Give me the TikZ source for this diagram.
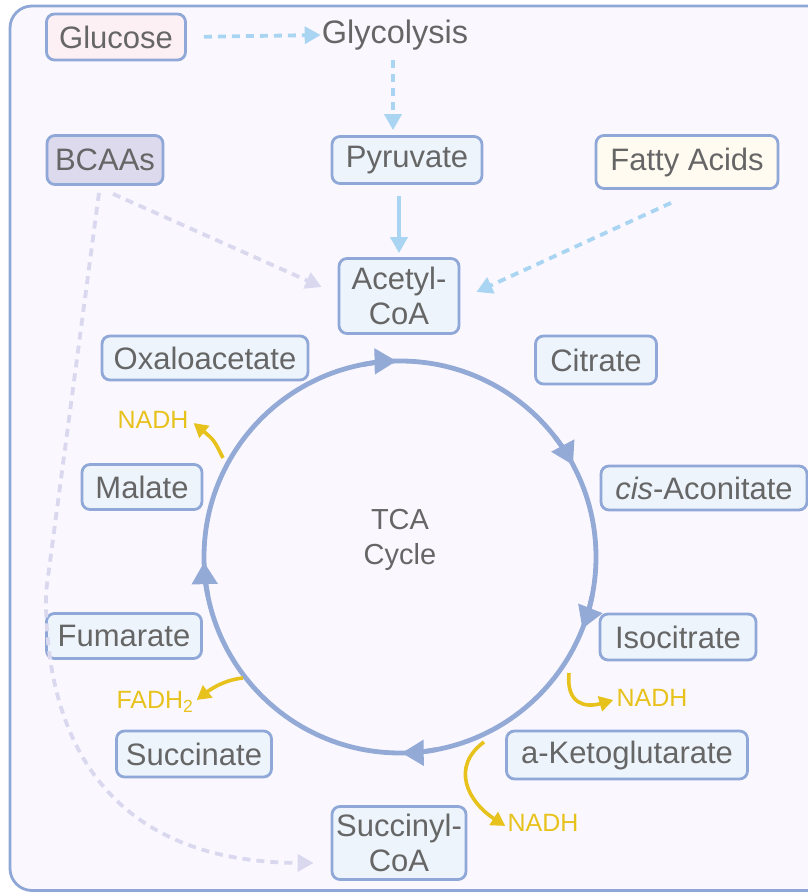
\documentclass[tikz,border=0pt]{standalone}
\usepackage{fontspec}
\setmainfont{Liberation Sans}
\usetikzlibrary{arrows.meta}
\definecolor{framec}{HTML}{8EA7D7}
\definecolor{bg}{HTML}{FAF8FE}
\definecolor{boxfill}{HTML}{EDF4FB}
\definecolor{boxline}{HTML}{8FA8D7}
\definecolor{txt}{HTML}{666666}
\definecolor{cyc}{HTML}{93A9D6}
\definecolor{gold}{HTML}{E8C21C}
\definecolor{skyd}{HTML}{A9D5F2}
\definecolor{lav}{HTML}{DAD8EE}
\definecolor{pinkfill}{HTML}{FDF0F4}
\definecolor{lavfill}{HTML}{DDDAEE}
\definecolor{creamfill}{HTML}{FFFBF1}
\begin{document}
\begin{tikzpicture}[x=1pt,y=1pt,
  box/.style={draw=boxline, line width=2.8pt, rounded corners=8pt, fill=boxfill,
    text=txt, font=\fontsize{31}{35}\selectfont, inner sep=0pt, align=center},
  lbl/.style={text=gold, font=\fontsize{25}{28}\selectfont, inner sep=0pt},
  skydash/.style={draw=skyd, line width=3.8pt, dash pattern=on 8pt off 6pt,
    -{Triangle[length=16pt,width=17pt,fill=skyd]}},
  lavdash/.style={draw=lav, line width=3.8pt, dash pattern=on 8pt off 6pt,
    -{Triangle[length=16pt,width=17pt,fill=lav]}},
  cycline/.style={draw=cyc, line width=4.8pt},
  cyctip/.style={draw=cyc, line width=4.8pt, -{Triangle[length=22pt,width=25pt,fill=cyc]}},
  goldarrow/.style={draw=gold, line width=3.6pt, -{Triangle[length=14pt,width=15pt,fill=gold]}}
]
\useasboundingbox (0,0) rectangle (808,892);
\clip (0,0) rectangle (808,892);
\draw[draw=framec, line width=2.8pt, fill=bg, rounded corners=22pt] (10,1.5) rectangle (850,886);

% nodes
\node[box, fill=pinkfill, minimum width=139pt, minimum height=46pt] (glucose) at (116,855) {Glucose};
\node[text=txt, font=\fontsize{32.5}{36}\selectfont, inner sep=0pt] (glyc) at (395,857) {Glycolysis};
\node[box, minimum width=150pt, minimum height=47pt] (pyruvate) at (407,732) {Pyruvate};
\node[box, fill=lavfill, minimum width=116pt, minimum height=49pt] (bcaas) at (105,732) {BCAAs};
\node[box, fill=creamfill, minimum width=182pt, minimum height=53pt] (fatty) at (687,730) {Fatty Acids};
\node[box, minimum width=120pt, minimum height=75pt] (acetyl) at (399,596) {Acetyl-\\CoA};
\node[box, minimum width=206pt, minimum height=44pt] (oxalo) at (205,534) {Oxaloacetate};
\node[box, minimum width=121pt, minimum height=48pt] (citrate) at (596,532) {Citrate};
\node[box, minimum width=206pt, minimum height=44pt] (aconit) at (704,404) {\textit{cis}-Aconitate};
\node[box, minimum width=120pt, minimum height=45pt] (malate) at (142,405) {Malate};
\node[box, minimum width=155pt, minimum height=45pt] (fumarate) at (124,256) {Fumarate};
\node[box, minimum width=156pt, minimum height=46pt] (isocit) at (678,255) {Isocitrate};
\node[box, minimum width=241pt, minimum height=48pt] (akg) at (627,137) {a-Ketoglutarate};
\node[box, minimum width=155pt, minimum height=46pt] (succinate) at (194,138) {Succinate};
\node[box, minimum width=134pt, minimum height=73pt] (succoa) at (399,49) {Succinyl-\\CoA};

\node[text=txt, font=\fontsize{29}{35}\selectfont, align=center, inner sep=0pt] (tca) at (400,352) {TCA\\Cycle};

% feeder connectors
\draw[skydash, shorten <=17pt, shorten >=1pt] (glucose.east) -- (glyc.west);
\draw[skydash, shorten <=10pt, shorten >=5pt] ([xshift=-2pt]glyc.south) -- ([xshift=-2pt]glyc.south |- pyruvate.north);
\draw[draw=skyd, line width=3.8pt, -{Triangle[length=16pt,width=17pt,fill=skyd]}, shorten <=11pt, shorten >=4pt]
  (pyruvate.south -| acetyl.north) -- (acetyl.north);
\draw[skydash] ([xshift=-16pt,yshift=-13pt]fatty.south) -- ([xshift=16pt,yshift=4pt]acetyl.east);
\draw[lavdash] ([xshift=8pt,yshift=-8pt]bcaas.south) -- ([xshift=-16pt,yshift=9pt]acetyl.west);
\coordinate (bend) at (46,300);
\draw[lavdash] ([xshift=-6pt,yshift=-7pt]bcaas.south) -- (bend)
  .. controls (44,150) and (110,30) .. ([xshift=-17pt,yshift=-20pt]succoa.west);

% TCA cycle
\coordinate (c) at (400,335);
\draw[cycline] (c) circle[radius=196];
\foreach \a in {91,28,-21.5,-89.5,181.5}{
  \pgfmathsetmacro{\b}{\a+10}
  \draw[cyctip] ([shift={(\b:196)}]c) arc[start angle=\b, end angle=\a, radius=196];
}

% yield labels and arrows
\node[lbl] (n1) at (153,472) {NADH};
\node[lbl] (f1) at (155,190) {FADH\textsubscript{2}};
\node[lbl] (n2) at (652,194) {NADH};
\node[lbl] (n3) at (543,69) {NADH};
\coordinate (s1) at (223,434);
\coordinate (s2) at (243,214);
\coordinate (s3) at (569,219);
\coordinate (s4) at (484,150);
\draw[goldarrow] (s1) .. controls (214,452) .. ([xshift=5pt,yshift=-3pt]n1.east);
\draw[goldarrow] (s2) .. controls (222,212) and (207,200) .. ([xshift=3pt,yshift=2pt]f1.east);
\draw[goldarrow] (s3) .. controls (566,188) and (585,184) .. ([xshift=-3pt,yshift=-2pt]n2.west);
\draw[goldarrow] (s4) .. controls (450,125) and (468,90) .. ([xshift=-2pt,yshift=-3pt]n3.west);
\end{tikzpicture}
\end{document}
